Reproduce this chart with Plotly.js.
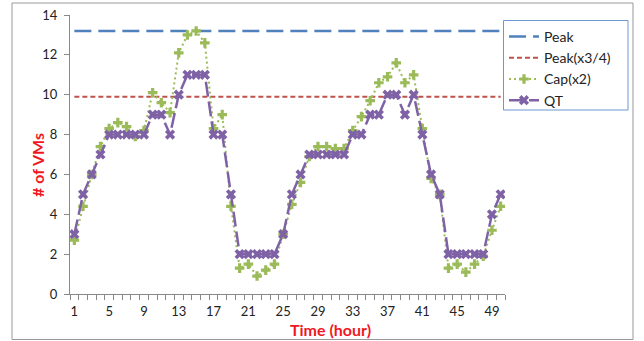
<!DOCTYPE html>
<html>
<head>
<meta charset="utf-8">
<script src="https://cdn.plot.ly/plotly-3.0.1.min.js"></script>
<style>html,body{margin:0;padding:0;background:#fff;}#chart{width:644px;height:341px;}</style>
</head>
<body>
<div id="chart"></div>
<script>
const hours = Array.from({length: 50}, (_, i) => i + 1);
const tickHours = [1, 5, 9, 13, 17, 21, 25, 29, 33, 37, 41, 45, 49];
const peakValue = 13.2;
const peak34Value = 9.9;
const capX2 = [2.7, 4.4, 6.0, 7.4, 8.3, 8.6, 8.4, 7.9, 8.2, 10.1,
               9.6, 9.1, 12.1, 13.0, 13.2, 12.6, 8.3, 9.0, 4.4, 1.3,
               1.5, 0.9, 1.2, 1.5, 3.0, 4.5, 5.6, 6.9, 7.4, 7.4,
               7.3, 7.3, 8.2, 8.9, 9.7, 10.6, 10.9, 11.6, 10.6, 11.0,
               8.3, 5.8, 5.0, 1.3, 1.5, 1.1, 1.5, 1.9, 3.2, 4.4];
const qt = [3, 5, 6, 7, 8, 8, 8, 8, 8, 9,
            9, 8, 10, 11, 11, 11, 8, 8, 5, 2,
            2, 2, 2, 2, 3, 5, 6, 7, 7, 7,
            7, 7, 8, 8, 9, 9, 10, 10, 9, 10,
            8, 6, 5, 2, 2, 2, 2, 2, 4, 5];
const seriesNames = ['Peak', 'Peak(x3/4)', 'Cap(x2)', 'QT'];

const FONT = 'Lato, "Open Sans", sans-serif';
const traces = [
  {x: hours, y: hours.map(() => peakValue), name: seriesNames[0], mode: 'lines',
   line: {color: '#4F81BD', width: 2.5, dash: '17px,7px'}},
  {x: hours, y: hours.map(() => peak34Value), name: seriesNames[1], mode: 'lines',
   line: {color: '#C0504D', width: 2, dash: '5px,3px'}},
  {x: hours, y: capX2, name: seriesNames[2], mode: 'lines+markers',
   line: {color: '#9BBB59', width: 2, dash: '2px,3px'},
   marker: {symbol: 'cross', size: 8, color: '#9BBB59'}},
  {x: hours, y: qt, name: seriesNames[3], mode: 'lines+markers',
   line: {color: '#7F62A6', width: 2.5, dash: '15px,5px'},
   marker: {symbol: 'x', size: 9, color: '#7F62A6'}}
];

const px = v => (v - 70) / 435;   // pixel x -> paper x
const py = v => (294 - v) / 279;  // pixel y -> paper y

const layout = {
  width: 644, height: 341,
  margin: {l: 70, r: 139, t: 15, b: 47},
  paper_bgcolor: '#fff', plot_bgcolor: '#fff',
  font: {family: FONT, size: 13, color: '#222'},
  showlegend: true,
  legend: {x: px(504), y: py(21), xanchor: 'left', yanchor: 'top',
           borderwidth: 0, bgcolor: 'rgba(0,0,0,0)',
           font: {family: FONT, size: 14, color: '#222'}},
  xaxis: {range: [0.5, 50.5], tickmode: 'array', tickvals: tickHours, ticktext: tickHours.map(String),
          ticks: '', ticklabelstandoff: 5, showgrid: false, zeroline: false, showline: true, linecolor: '#888', linewidth: 1,
          minor: {tick0: 0.5, dtick: 1, ticks: 'outside', ticklen: 5, tickcolor: '#888', tickwidth: 1, showgrid: false},
          tickfont: {family: FONT, size: 13, color: '#222'}, fixedrange: true},
  yaxis: {range: [0, 14], dtick: 2, ticks: 'outside', ticklen: 5, tickcolor: '#888', ticklabelstandoff: 4,
          showgrid: false, zeroline: false, showline: true, linecolor: '#888', linewidth: 1,
          tickfont: {family: FONT, size: 13, color: '#222'}, fixedrange: true},
  annotations: [
    {text: '<b># of VMs</b>', xref: 'paper', yref: 'paper', x: px(37), y: py(165),
     xanchor: 'center', yanchor: 'middle',
     showarrow: false, textangle: -90, font: {family: FONT, size: 16, color: '#F0181E'}},
    {text: '<b>Time (hour)</b>', xref: 'paper', yref: 'paper', x: px(330), y: py(330),
     xanchor: 'center', yanchor: 'middle',
     showarrow: false, font: {family: FONT, size: 16, color: '#F0181E'}}
  ],
  shapes: [
    {type: 'rect', xref: 'paper', yref: 'paper', x0: px(12), x1: px(633),
     y0: py(339.5), y1: py(3), line: {color: '#999', width: 1}, layer: 'below'},
    {type: 'rect', xref: 'paper', yref: 'paper', x0: px(503.5), x1: px(628),
     y0: py(110), y1: py(20.5), line: {color: '#6A98D0', width: 1}, layer: 'below'}
  ]
};
Plotly.newPlot('chart', traces, layout, {staticPlot: true, displayModeBar: false});
</script>
</body>
</html>
